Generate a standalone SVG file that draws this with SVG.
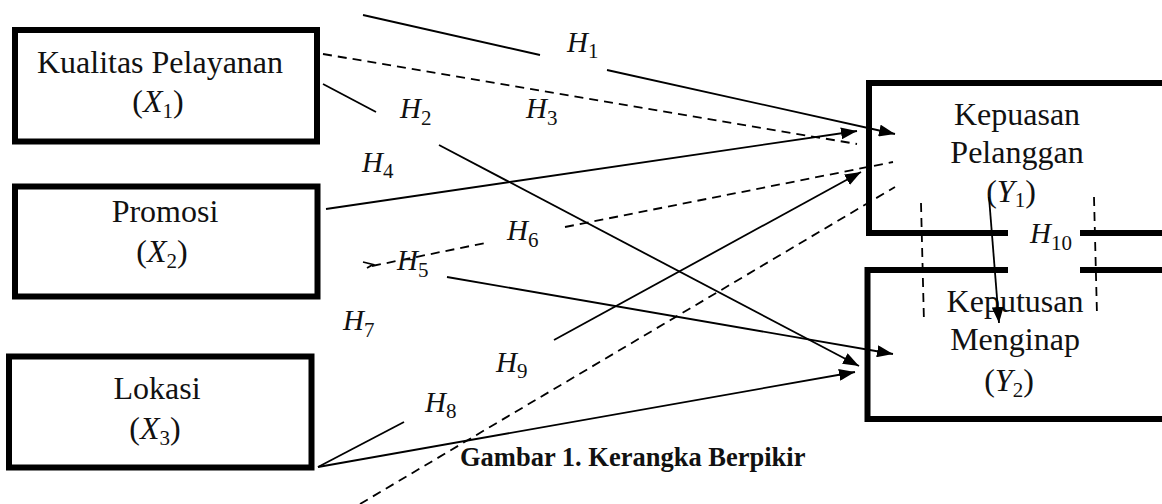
<svg xmlns="http://www.w3.org/2000/svg" width="1162" height="504" viewBox="0 0 1162 504">
<style>
.box{fill:none;stroke:#000;stroke-width:6}
.t{font-family:"Liberation Serif","Times New Roman",serif;font-size:32px;fill:#111;text-anchor:middle}
.i{font-style:italic}
.s{font-size:21px;font-style:normal}
.h{font-family:"Liberation Serif","Times New Roman",serif;font-size:29px;font-style:italic;fill:#111}
.ln{fill:none;stroke:#000;stroke-width:1.8}
.da{stroke-dasharray:9 6}
.cap{font-family:"Liberation Serif","Times New Roman",serif;font-size:26.5px;font-weight:bold;fill:#111}
</style>
<defs>
<marker id="ah" viewBox="0 0 16 12" markerWidth="16" markerHeight="12" refX="16" refY="6" orient="auto" markerUnits="userSpaceOnUse">
<path d="M0,0 L16,6 L0,12 z" fill="#000"/>
</marker>
</defs>
<rect width="1162" height="504" fill="#fff"/>
<g id="x1">
<rect class="box" x="15" y="30" width="302" height="111.5"/>
<text class="t" x="160" y="73">Kualitas Pelayanan</text>
<text class="t" x="158" y="112">(<tspan class="i">X</tspan><tspan class="s" dy="6">1</tspan><tspan dy="-6">)</tspan></text>
</g>
<g id="x2">
<rect class="box" x="15" y="186.5" width="302.5" height="110"/>
<text class="t" x="165" y="222">Promosi</text>
<text class="t" x="162" y="262">(<tspan class="i">X</tspan><tspan class="s" dy="6">2</tspan><tspan dy="-6">)</tspan></text>
</g>
<g id="x3">
<rect class="box" x="9" y="356.5" width="302.5" height="111"/>
<text class="t" x="157" y="399">Lokasi</text>
<text class="t" x="155" y="439">(<tspan class="i">X</tspan><tspan class="s" dy="6">3</tspan><tspan dy="-6">)</tspan></text>
</g>
<g id="y1">
<path class="box" d="M1166,83 H869 V233 H1008 M1080,233 H1166"/>
<text class="t" x="1017" y="125">Kepuasan</text>
<text class="t" x="1017" y="163">Pelanggan</text>
<text class="t" x="1011" y="202">(<tspan class="i">Y</tspan><tspan class="s" dy="5">1</tspan><tspan dy="-5">)</tspan></text>
</g>
<g id="y2">
<path class="box" d="M1008,270 H867.5 V419 H1166 M1080,270 H1166"/>
<text class="t" x="1015" y="312">Keputusan</text>
<text class="t" x="1015" y="350">Menginap</text>
<text class="t" x="1009" y="391">(<tspan class="i">Y</tspan><tspan class="s" dy="6">2</tspan><tspan dy="-6">)</tspan></text>
</g>
<g id="connectors">
<line class="ln" x1="363" y1="15" x2="540" y2="55"/>
<line class="ln" x1="607" y1="70" x2="895" y2="134" marker-end="url(#ah)"/>
<line class="ln da" x1="323" y1="54" x2="857" y2="144"/>
<line class="ln" x1="323" y1="84" x2="376" y2="112"/>
<line class="ln" x1="439" y1="145" x2="859" y2="366" marker-end="url(#ah)"/>
<line class="ln" x1="326" y1="209" x2="857" y2="131" marker-end="url(#ah)"/>
<polyline class="ln" points="363,262 373,264.5 367,268"/>
<line class="ln da" x1="372" y1="266" x2="485" y2="243"/>
<line class="ln da" x1="565" y1="227" x2="893" y2="162"/>
<line class="ln" x1="447" y1="277" x2="893" y2="354" marker-end="url(#ah)"/>
<line class="ln" x1="318" y1="467" x2="404" y2="422"/>
<line class="ln" x1="554" y1="340" x2="861" y2="172" marker-end="url(#ah)"/>
<line class="ln" x1="318" y1="467" x2="855" y2="372" marker-end="url(#ah)"/>
<line class="ln da" x1="360" y1="504" x2="895" y2="187"/>
<line class="ln da" x1="921" y1="203" x2="924" y2="323"/>
<line class="ln da" x1="1094" y1="197" x2="1097" y2="315"/>
<line class="ln" x1="989" y1="197" x2="999" y2="323" marker-end="url(#ah)"/>
</g>
<g id="labels">
<text class="h" x="567" y="52">H<tspan class="s" dy="6">1</tspan></text>
<text class="h" x="400" y="118">H<tspan class="s" dy="7">2</tspan></text>
<text class="h" x="526" y="118">H<tspan class="s" dy="7">3</tspan></text>
<text class="h" x="362" y="172">H<tspan class="s" dy="6">4</tspan></text>
<text class="h" x="397" y="270">H<tspan class="s" dy="7">5</tspan></text>
<text class="h" x="507" y="240">H<tspan class="s" dy="7">6</tspan></text>
<text class="h" x="343" y="330">H<tspan class="s" dy="7">7</tspan></text>
<text class="h" x="425" y="412">H<tspan class="s" dy="6">8</tspan></text>
<text class="h" x="496" y="372">H<tspan class="s" dy="6">9</tspan></text>
<text class="h" x="1030" y="243">H<tspan class="s" dy="7">10</tspan></text>
<text class="cap" x="460" y="466">Gambar 1. Kerangka Berpikir</text>
</g>
</svg>
